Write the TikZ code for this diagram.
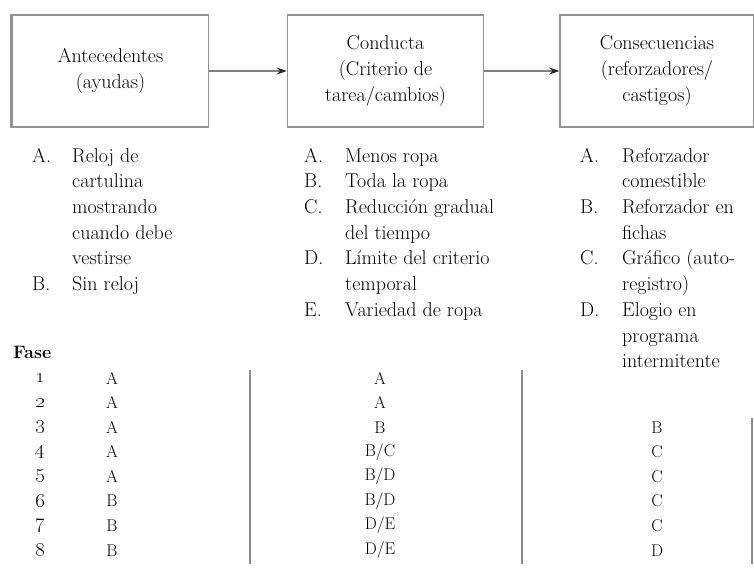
\documentclass[tikz,border=0pt]{standalone}
\usetikzlibrary{arrows.meta,positioning}

\tikzset{
  etapa/.style={draw=gray!85, line width=1.4pt, minimum width=196pt, minimum height=112pt,
    inner sep=0pt, align=center, font=\fontsize{20}{26}\selectfont},
  flecha/.style={draw=gray, line width=1.4pt, -{Stealth[length=10pt,width=7pt,color=black!85]}},
  lista/.style={anchor=north west, inner sep=0pt, font=\fontsize{20}{25.7}\selectfont},
  celda/.style={inner sep=0pt, font=\fontsize{17}{20}\selectfont},
  separador/.style={draw=gray!90, line width=1.8pt}
}

\begin{document}
\begin{tikzpicture}[x=1pt, y=-1pt]
        \useasboundingbox (0,0) rectangle (754,577);

        % Boxes
        \node[etapa] (antec) at (110.5,71) {Antecedentes\\(ayudas)};
        \node[etapa] (conducta) at (385.5,71) {Conducta\\(Criterio de\\tarea/cambios)};
        \node[etapa, minimum width=194pt] (consec) at (657,71) {Consecuencias\\(reforzadores/\\castigos)};
        \draw[gray!85, line width=3pt] (antec.north west) -- (antec.south west);

        % Arrows
        \draw[flecha] (antec) -- (conducta);
        \draw[flecha] (conducta) -- (consec);

        % Lists under the boxes
        \node[lista] (ayudas) at (32,144) {\begin{tabular}{@{}p{40pt}@{}l@{}}
          A. & Reloj de\\
             & cartulina\\
             & mostrando\\
             & cuando debe\\
             & vestirse\\
          B. & Sin reloj
        \end{tabular}};
        \node[lista] (criterios) at (304,144) {\begin{tabular}{@{}p{41pt}@{}l@{}}
          A. & Menos ropa\\
          B. & Toda la ropa\\
          C. & Reducción gradual\\
             & del tiempo\\
          D. & Límite del criterio\\
             & temporal\\
          E. & Variedad de ropa
        \end{tabular}};
        \node[lista] (reforzadores) at (580,144) {\begin{tabular}{@{}p{42pt}@{}l@{}}
          A. & Reforzador\\
             & comestible\\
          B. & Reforzador en\\
             & fichas\\
          C. & Gráfico (auto-\\
             & registro)\\
          D. & Elogio en\\
             & programa\\
             & intermitente
        \end{tabular}};

        % Phase table
        \node[celda, anchor=west, font=\fontsize{18}{20}\selectfont\bfseries] (fase) at (13,352) {Fase};
        \foreach \f/\ant/\con/\csq [count=\i] in
            {1/A/A/{}, 2/A/A/{}, 3/A/B/B, 4/A/B\slash C/C,
             5/A/B\slash D/C, 6/B/B\slash D/C, 7/B/D\slash E/C, 8/B/D\slash E/D} {
          \node[celda, font=\fontsize{22}{20}\selectfont] (f\i) at (40,378+24.6*\i-24.6) {\oldstylenums{\f}};
          \node[celda] (a\i) at (112,378+24.6*\i-24.6) {\ant};
          \node[celda] (c\i) at (380,378+24.6*\i-24.6) {\con};
          \node[celda] (s\i) at (657,378+24.6*\i-24.6) {\csq};
        }

        % Column rules
        \coordinate (r1a) at (250,370);
        \coordinate (r1b) at (250,564);
        \coordinate (r2a) at (522,370);
        \coordinate (r2b) at (522,564);
        \coordinate (r3a) at (752,418);
        \coordinate (r3b) at (752,564);
        \draw[separador] (r1a) -- (r1b);
        \draw[separador] (r2a) -- (r2b);
        \draw[separador] (r3a) -- (r3b);
\end{tikzpicture}
\end{document}
